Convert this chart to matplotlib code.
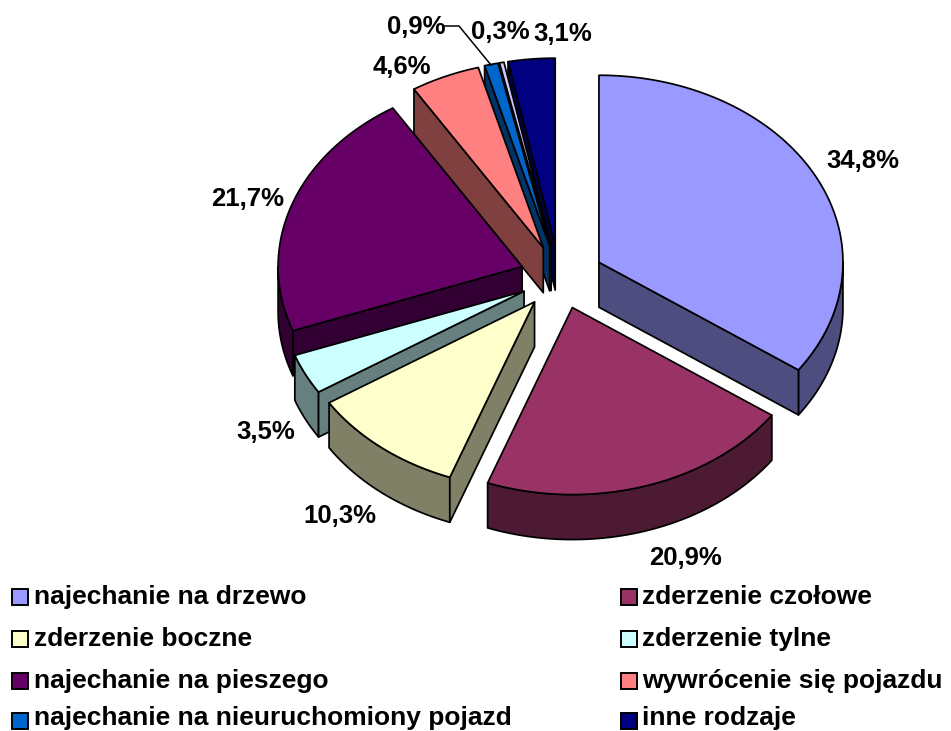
import numpy as np
import matplotlib
matplotlib.use("Agg")
import matplotlib.pyplot as plt
from matplotlib.patches import Polygon, Rectangle

values = [34.8, 20.9, 10.3, 3.5, 21.7, 4.6, 0.9, 0.3, 3.1]
value_labels = ["34,8%", "20,9%", "10,3%", "3,5%", "21,7%", "4,6%", "0,9%", "0,3%", "3,1%"]
colors = ["#9999FF", "#993366", "#FFFFCC", "#CCFFFF", "#660066", "#FF8080", "#0066CC", "#CCCCFF", "#000080"]
side_colors = ["#4D4D80", "#4D1A33", "#808066", "#668080", "#330033", "#804040", "#003366", "#666680", "#000040"]
legend_names = ["najechanie na drzewo", "zderzenie czołowe", "zderzenie boczne", "zderzenie tylne",
                "najechanie na pieszego", "wywrócenie się pojazdu", "najechanie na nieuruchomiony pojazd", "inne rodzaje"]
label_xy = [(863, 161), (685, 558), (340, 516), (266, 432), (248, 199), (402, 67), (416, 27), (500, 32), (563, 34)]

CX, CY = 559, 277
RX, RY = 244, 187
EX_RIGHT, EX_LEFT, EY = 45, 39, 32
DEPTH = 45
draw_order = [8, 7, 6, 5, 4, 3, 2, 0, 1]

plt.rcParams["font.family"] = ["Liberation Sans", "DejaVu Sans"]
fig = plt.figure(figsize=(9.51, 7.31), dpi=100)
ax = fig.add_axes([0, 0, 1, 1])
ax.set_xlim(0, 951)
ax.set_ylim(731, 0)
ax.axis("off")

LW = 1.25
edges = np.cumsum([0] + values) / sum(values) * 2 * np.pi

def add(pts, color, z):
    ax.add_patch(Polygon(pts, closed=True, facecolor=color, edgecolor="black", linewidth=LW, joinstyle="round", zorder=z))

def ring(a0, a1, x0, y0):
    t = np.linspace(a0, a1, max(int((a1 - a0) * 60), 4))
    return np.column_stack([x0 + RX * np.sin(t), y0 - RY * np.cos(t)])

z = 1
for i in draw_order:
    a0, a1 = edges[i], edges[i + 1]
    mid = (a0 + a1) / 2
    ex = EX_RIGHT if np.sin(mid) > 0 else EX_LEFT
    x0 = CX + ex * np.sin(mid)
    y0 = CY - EY * np.cos(mid)
    rim = ring(a0, a1, x0, y0)
    apex = np.array([x0, y0])
    d = np.array([0, DEPTH])
    # outer wall: only the part facing the viewer
    r0, r1 = max(a0, np.pi / 2), min(a1, 3 * np.pi / 2)
    if r1 > r0:
        w = ring(r0, r1, x0, y0)
        add(np.vstack([w, (w + d)[::-1]]), side_colors[i], z)
    # cut walls: only those facing the viewer
    if np.pi < a0 < 2 * np.pi:
        add([apex, rim[0], rim[0] + d, apex + d], side_colors[i], z + 0.2)
    if 0 < a1 < np.pi:
        add([apex, rim[-1], rim[-1] + d, apex + d], side_colors[i], z + 0.2)
    add(np.vstack([apex, rim]), colors[i], z + 0.5)
    z += 1

for s, (x, y) in zip(value_labels, label_xy):
    ax.text(x, y, s, fontsize=18.5, fontweight="bold", ha="center", va="center", color="black", zorder=50)

ax.plot([444, 459, 491], [26, 26, 65], color="black", lw=1.1, zorder=40)

square_rows = [596.5, 639, 680.5, 720.5]
text_rows = [604, 646, 688, 725]
cols = [(12, 34), (621, 642)]
for k, name in enumerate(legend_names):
    row = k // 2
    sx, tx = cols[k % 2]
    ax.add_patch(Rectangle((sx, square_rows[row] - 8), 16, 16, facecolor=colors[k if k < 7 else 8], edgecolor="black", linewidth=1.4, zorder=30))
    ax.text(tx, text_rows[row], name, fontsize=19, fontweight="bold", ha="left", va="baseline", color="black", zorder=50)

fig.savefig("out.png", dpi=100)
